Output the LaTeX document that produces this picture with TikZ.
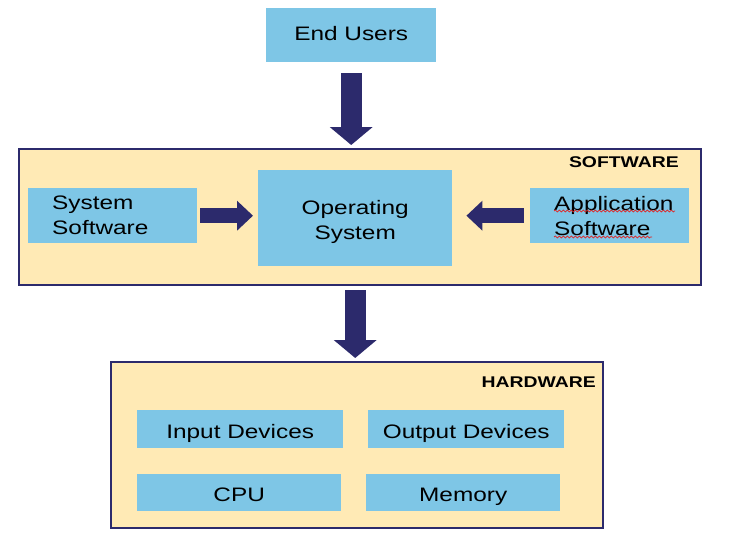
\documentclass[tikz,border=0pt]{standalone}
\usepackage{fontspec}
\newfontfamily\diafont[FakeStretch=1.25]{Liberation Sans}
\usetikzlibrary{arrows.meta,positioning,decorations.pathmorphing}
\definecolor{skyfill}{RGB}{126,198,230}
\definecolor{creamfill}{RGB}{255,234,181}
\definecolor{navy}{RGB}{44,42,108}
\definecolor{spellred}{RGB}{225,35,35}

\begin{document}
\begin{tikzpicture}[x=1pt, y=-1pt,
    font=\diafont\fontsize{19.5}{25}\selectfont,
    layer/.style={draw=navy, line width=2pt, fill=creamfill, anchor=north west, inner sep=0pt},
    unit/.style={fill=skyfill, anchor=north west, inner sep=0pt},
    device/.style={unit, text height=18pt, text depth=0pt},
    tag/.style={font=\diafont\bfseries\fontsize{15.5}{18}\selectfont, anchor=base east, inner sep=0pt},
    blockv/.style={navy, line width=21pt, -{Triangle[length=18pt,width=42pt]}},
    blockh/.style={navy, line width=14.5pt, -{Triangle[length=16pt,width=29pt]}},
    squiggle/.style={spellred, line width=0.7pt, decorate, decoration={snake, amplitude=1pt, segment length=4pt}}]

    \useasboundingbox (0,0) rectangle (738,546);

    % Users
    \node[unit, minimum width=170pt, minimum height=54pt, text height=11.5pt, text depth=0pt] (users) at (266,8) {End Users};

    % Software layer
    \node[layer, minimum width=682pt, minimum height=136pt] (sw) at (18,148) {};
    \node[tag] (swtag) at (679,167) {SOFTWARE};
    \node[unit, minimum height=55pt, inner xsep=24pt, text width=121pt, align=left] (syssw) at (28,188) {System\\Software};
    \node[unit, minimum width=194pt, minimum height=96pt, text height=46pt, align=center] (os) at (258,170) {Operating\\System};
    \node[unit, minimum height=55pt, inner xsep=24pt, text width=111pt, align=left] (appsw) at (530,188) {Application\\Software};
    % spell-check marks
    \draw[squiggle] ([shift={(24,23)}]appsw.north west) -- ++(121,0);
    \draw[squiggle] ([shift={(24,49)}]appsw.north west) -- ++(98,0);

    % Hardware layer
    \node[layer, minimum width=492pt, minimum height=166pt] (hw) at (110,361) {};
    \node[tag] (hwtag) at (596,387) {HARDWARE};
    \node[device, minimum width=206pt, minimum height=38pt] (input) at (137,410) {Input Devices};
    \node[device, minimum width=196pt, minimum height=38pt] (output) at (368,410) {Output Devices};
    \node[device, minimum width=204pt, minimum height=37pt] (cpu) at (137,474) {CPU};
    \node[device, minimum width=194pt, minimum height=37pt] (memory) at (366,474) {Memory};

    % Block arrows
    \draw[blockv, shorten <=11pt, shorten >=3pt] (users.south) -- (users.south |- sw.north);
    \draw[blockh, shorten <=3pt, shorten >=5pt] (syssw.east) -- (syssw.east -| os.west);
    \draw[blockh, shorten <=6pt, shorten >=14pt] (appsw.west) -- (appsw.west -| os.east);
    \draw[blockv, shorten <=4pt, shorten >=3pt] (os.south |- sw.south) -- (os.south |- hw.north);
\end{tikzpicture}
\end{document}
